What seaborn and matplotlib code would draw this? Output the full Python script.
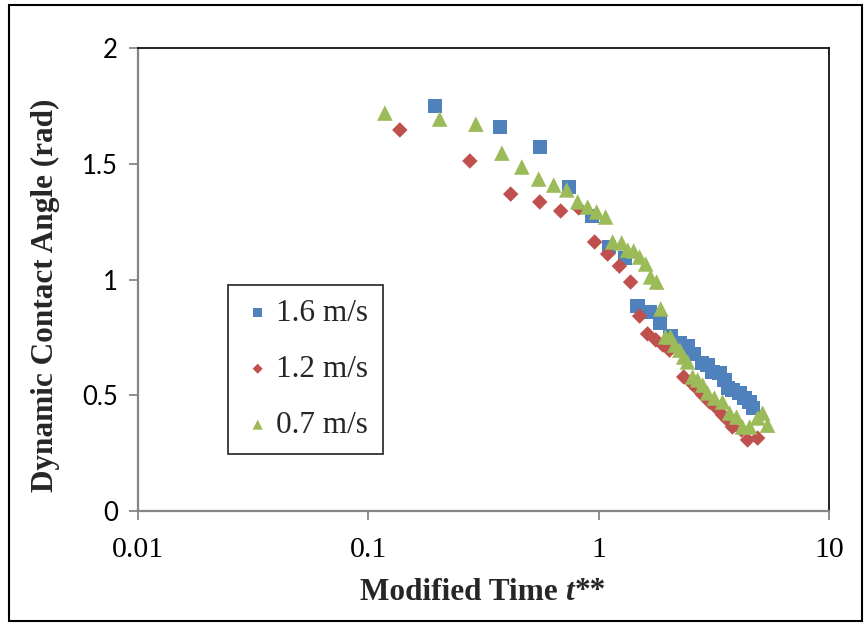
import numpy as np
import pandas as pd
import matplotlib
matplotlib.use("Agg")
import matplotlib.pyplot as plt
import seaborn as sns
from matplotlib.patches import Rectangle

# ---- data ----
series_labels = ["1.6 m/s", "1.2 m/s", "0.7 m/s"]

t_16 = [0.194, 0.372, 0.555, 0.741, 0.933, 1.105, 1.297, 1.476, 1.665, 1.84, 2.05, 2.25,
        2.43, 2.58, 2.80, 2.97, 3.12, 3.35, 3.52, 3.63, 3.81, 4.09, 4.30, 4.52, 4.66]
a_16 = [1.749, 1.659, 1.572, 1.40, 1.274, 1.14, 1.093, 0.886, 0.860, 0.812, 0.756, 0.726,
        0.713, 0.678, 0.639, 0.631, 0.600, 0.596, 0.566, 0.531, 0.523, 0.510, 0.488, 0.471, 0.445]

t_12 = [0.137, 0.276, 0.415, 0.555, 0.684, 0.819, 0.96, 1.094, 1.23, 1.376, 1.506, 1.63,
        1.77, 1.90, 2.03, 2.34, 2.53, 2.66, 2.83, 3.03, 3.25, 3.45, 3.63, 3.81, 4.17, 4.43, 4.90]
a_12 = [1.646, 1.512, 1.369, 1.335, 1.296, 1.309, 1.162, 1.11, 1.058, 0.989, 0.842, 0.765,
        0.739, 0.717, 0.695, 0.579, 0.553, 0.531, 0.501, 0.471, 0.445, 0.415, 0.393, 0.363,
        0.350, 0.307, 0.315]

t_07 = [0.118, 0.204, 0.293, 0.380, 0.464, 0.549, 0.638, 0.727, 0.811, 0.896, 0.98, 1.072,
        1.15, 1.258, 1.336, 1.419, 1.506, 1.60, 1.68, 1.785, 1.86, 1.95, 2.05, 2.14, 2.25,
        2.34, 2.43, 2.56, 2.69, 2.83, 2.97, 3.18, 3.45, 3.70, 3.97, 4.21, 4.52, 4.90, 5.15, 5.41]
a_07 = [1.719, 1.693, 1.671, 1.546, 1.486, 1.434, 1.408, 1.387, 1.335, 1.313, 1.292, 1.270,
        1.162, 1.158, 1.127, 1.123, 1.097, 1.067, 1.011, 0.989, 0.873, 0.752, 0.752, 0.717,
        0.695, 0.665, 0.644, 0.579, 0.566, 0.544, 0.510, 0.488, 0.471, 0.423, 0.406, 0.363,
        0.363, 0.402, 0.423, 0.371]

x_ticks = [0.01, 0.1, 1, 10]
x_tick_labels = ["0.01", "0.1", "1", "10"]
y_ticks = [0, 0.5, 1, 1.5, 2]
y_tick_labels = ["0", "0.5", "1", "1.5", "2"]

colors = ["#4F81BD", "#C0504D", "#9BBB59"]
markers = ["s", "D", "^"]
sizes = [105, 62, 125]

# ---- figure ----
sns.set_theme(style="white")
plt.rcParams["font.family"] = ["Liberation Serif", "DejaVu Serif"]

W, H = 867, 626
fig = plt.figure(figsize=(W / 100, H / 100), dpi=100)
ax = fig.add_axes([138 / W, 1 - 511 / H, (829 - 138) / W, (511 - 48) / H])

data_sets = [(t_16, a_16), (t_12, a_12), (t_07, a_07)]
for (tx, ay), lab, c, m, s in zip(data_sets, series_labels, colors, markers, sizes):
    df = pd.DataFrame({"t": tx, "angle": ay})
    sns.scatterplot(data=df, x="t", y="angle", ax=ax, color=c, marker=m, s=s,
                    linewidth=0, edgecolor="none", label=lab, zorder=3)

ax.set_xscale("log")
ax.set_xlim(0.01, 10)
ax.set_ylim(0, 2)
ax.set_xticks(x_ticks)
ax.set_xticklabels(x_tick_labels)
ax.set_yticks(y_ticks)
ax.set_yticklabels(y_tick_labels)
ax.xaxis.set_minor_locator(matplotlib.ticker.NullLocator())

for lbl in ax.get_xticklabels():
    lbl.set_fontfamily(["Liberation Serif"])
    lbl.set_fontsize(21.5)
    lbl.set_color("black")
for lbl in ax.get_yticklabels():
    lbl.set_fontfamily(["Lato", "DejaVu Sans"])
    lbl.set_fontsize(18.5)
    lbl.set_color("black")

ax.tick_params(axis="both", which="major", direction="out", length=6.5, width=1.3,
               color="#868686", bottom=True, left=True)
ax.tick_params(axis="x", pad=12)
ax.tick_params(axis="y", pad=8)

for side in ["left", "bottom"]:
    ax.spines[side].set_color("#868686")
    ax.spines[side].set_linewidth(1.6)
for side in ["top", "right"]:
    ax.spines[side].set_color("#111111")
    ax.spines[side].set_linewidth(1.3)
    ax.spines[side].set_visible(True)

ax.set_xlabel("")
ax.set_ylabel("")

# y axis title
fig.text(45 / W, 1 - 295 / H, "Dynamic Contact Angle (rad)", fontsize=22.5,
         fontweight="bold", rotation=90, ha="center", va="center",
         family=["Liberation Serif"])

# x axis title with italic t
t1 = fig.text(360 / W, 1 - 592 / H, "Modified Time", fontsize=22.5, fontweight="bold",
              ha="left", va="center", family=["Liberation Serif"])
fig.canvas.draw()
ext = t1.get_window_extent()
gap = 7
t2 = fig.text((ext.x1 + gap) / W, 1 - 592 / H, "t", fontsize=22.5, fontweight="bold",
              style="italic", ha="left", va="center", family=["Liberation Serif"])
fig.canvas.draw()
ext2 = t2.get_window_extent()
fig.text((ext2.x1 + 1) / W, 1 - 592 / H, "**", fontsize=22.5, fontweight="bold",
         ha="left", va="center", family=["Liberation Serif"])

leg = ax.legend(loc="upper left", bbox_to_anchor=(228 / W, 1 - 285 / H),
                bbox_transform=fig.transFigure, borderaxespad=0, frameon=True,
                fancybox=False, shadow=False, markerscale=0.65,
                handlelength=1.0, handletextpad=0.1, labelspacing=0.86,
                borderpad=0.45, prop={"family": "Liberation Serif", "size": 22.5})
leg.get_frame().set_edgecolor("black")
leg.get_frame().set_linewidth(1.3)

fig.patches.append(Rectangle((9 / W, 1 - 621 / H), (862 - 9) / W, (621 - 5) / H,
                             transform=fig.transFigure, fill=False, edgecolor="black",
                             linewidth=1.5))

fig.savefig("out.png", dpi=100)
